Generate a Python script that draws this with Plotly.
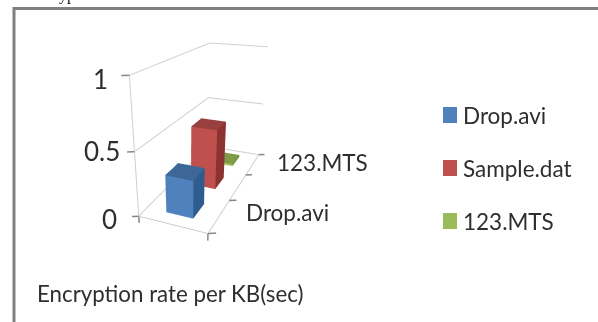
import plotly.graph_objects as go

W, H = 598, 322
series = ["Drop.avi", "Sample.dat", "123.MTS"]
values = [0.30, 0.50, 0.02]
front_colors = ["#4F81BD", "#C0504D", "#9BBB59"]
top_colors = ["#3C6797", "#97403D", "#7F9A48"]
side_colors = ["#2F5C8F", "#8C3330", "#6E8A3A"]
depth_labels = ["Drop.avi", "123.MTS"]
depth_label_pos = [0.5, 2.5]
z_ticks = [0, 0.5, 1]
z_labels = ["0", "0.5", "1"]
x_half = 0.2
y_half = 0.23
GRID = "#CFCFCF"
TICK = "#868686"
TEXT = "#2E2E2E"

fig = go.Figure()


def line3d(xs, ys, zs, color, width=2):
    fig.add_trace(go.Scatter3d(x=xs, y=ys, z=zs, mode="lines", line=dict(color=color, width=width),
                               hoverinfo="skip", showlegend=False))


# floor, wall grid and ticks, all on the data scale (x 0..1, depth 0..3, z 0..1)
n = len(series)
line3d([0, 1, 1, 0, 0], [0, 0, n, n, 0], [0, 0, 0, 0, 0], GRID)
line3d([0, 0], [0, 0], [0, 1], GRID)
for z in z_ticks[1:]:
    line3d([0, 0, 1], [0, n, n], [z, z, z], GRID)
for z in z_ticks:
    line3d([0, -0.08], [0, -0.05], [z, z], TICK, 3)
for d in range(n + 1):
    line3d([1, 1.092], [d, d + 0.056], [0, 0], TICK, 3)
for xv in [0, 1]:
    line3d([xv, xv], [0, 0], [0, -0.057], TICK, 3)

for i, (name, v) in enumerate(zip(series, values)):
    x0, x1 = 0.5 - x_half, 0.5 + x_half
    y0, y1 = i + 0.5 - y_half, i + 0.5 + y_half
    xs = [x0, x1, x1, x0, x0, x1, x1, x0]
    ys = [y0, y0, y1, y1, y0, y0, y1, y1]
    zs = [0, 0, 0, 0, v, v, v, v]
    tris = [
        (0, 1, 5, front_colors[i]), (0, 5, 4, front_colors[i]),
        (1, 2, 6, side_colors[i]), (1, 6, 5, side_colors[i]),
        (4, 5, 6, top_colors[i]), (4, 6, 7, top_colors[i]),
    ]
    fig.add_trace(go.Mesh3d(
        x=xs, y=ys, z=zs,
        i=[t[0] for t in tris], j=[t[1] for t in tris], k=[t[2] for t in tris],
        facecolor=[t[3] for t in tris], flatshading=True, name=name,
        lighting=dict(ambient=1, diffuse=0, specular=0, roughness=1, fresnel=0),
        hoverinfo="name",
    ))

scene_notes = []
for t, z, xs_, ys_ in zip(z_labels, z_ticks, [-29, -33, -29], [-3, 1, -4]):
    scene_notes.append(dict(x=0, y=0, z=z, text=t, showarrow=False, xanchor="center", yanchor="middle",
                            xshift=xs_, yshift=ys_, font=dict(family="Lato", size=26, color=TEXT)))
for t, yv, sx, sy in zip(depth_labels, depth_label_pos, [25, 22], [3, 2]):
    scene_notes.append(dict(x=1, y=yv, z=0, text=t, showarrow=False, xanchor="left", yanchor="middle",
                            xshift=sx, yshift=sy, font=dict(family="Lato", size=22.5, color=TEXT)))

hidden = dict(visible=False)
scene = dict(
    domain=dict(x=[0, 0.634], y=[0, 1]),
    xaxis=dict(range=[-0.25, 1.25], **hidden),
    yaxis=dict(range=[-0.75, 3.75], **hidden),
    zaxis=dict(range=[-0.25, 1.25], **hidden),
    aspectmode="manual",
    aspectratio=dict(x=0.398 * 1.5, y=1.042 * 1.5, z=0.760 * 1.5),
    camera=dict(eye=dict(x=0.746, y=-2.036, z=0.784), center=dict(x=0.034, y=-0.371, z=-0.073),
                up=dict(x=0, y=0, z=1), projection=dict(type="perspective")),
    annotations=scene_notes,
)


def px(x): return x / W
def py(y): return 1 - y / H


shapes = [
    dict(type="line", xref="paper", yref="paper", x0=px(13), x1=px(598), y0=py(8.5), y1=py(8.5),
         line=dict(color="#808080", width=3)),
    dict(type="line", xref="paper", yref="paper", x0=px(14), x1=px(14), y0=py(7), y1=py(322),
         line=dict(color="#808080", width=3)),
]
annotations = [
    dict(text="ypt", x=px(57), y=py(6), xref="paper", yref="paper", xanchor="left", yanchor="bottom",
         showarrow=False, font=dict(family="Liberation Serif", size=16, color="#111")),
    dict(text="Encryption rate per KB(sec)", x=px(35), y=py(293), xref="paper", yref="paper", xanchor="left",
         yanchor="middle", showarrow=False, font=dict(family="Lato", size=22.3, color=TEXT)),
]
legend_y = [115, 168, 221]
for name, c, ly in zip(series, front_colors, legend_y):
    shapes.append(dict(type="rect", xref="paper", yref="paper", x0=px(443), x1=px(457), y0=py(ly - 8), y1=py(ly + 8),
                       fillcolor=c, line=dict(width=0)))
    annotations.append(dict(text=name, x=px(461), y=py(ly), xref="paper", yref="paper", xanchor="left",
                            yanchor="middle", showarrow=False, font=dict(family="Lato", size=22.5, color=TEXT)))

fig.update_layout(width=W, height=H, margin=dict(l=0, r=0, t=0, b=0), paper_bgcolor="white",
                  showlegend=False, scene=scene, shapes=shapes, annotations=annotations)
fig.write_html("out.html", config=dict(displayModeBar=False), post_script="document.body.style.margin='0';")
